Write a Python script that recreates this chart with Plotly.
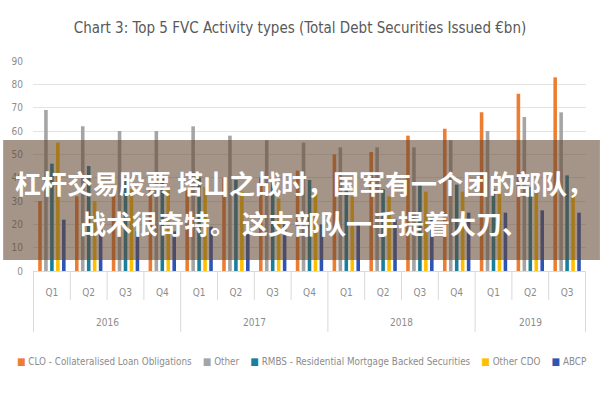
import plotly.graph_objects as go

years = ["2016"] * 4 + ["2017"] * 4 + ["2018"] * 4 + ["2019"] * 3
quarters = ["Q1", "Q2", "Q3", "Q4"] * 3 + ["Q1", "Q2", "Q3"]
year_labels = ["2016", "2017", "2018", "2019"]

clo = [30, 32, 33, 35, 35, 40, 40, 43, 50, 51, 58, 61, 68, 76, 83]
other = [69, 62, 60, 60, 62, 58, 56, 55, 53, 53, 53, 56, 60, 66, 68]
rmbs = [46, 45, 40, 40, 40, 39, 39, 39, 35, 35, 38, 37, 35, 36, 41]
other_cdo = [55, 30, 35, 35, 36, 34, 31, 33, 32, 32, 34, 34, 34, 34, 33]
abcp = [22, 19, 17, 17, 19, 16, 20, 20, 21, 22, 23, 25, 25, 26, 25]

series_names = ["CLO - Collateralised Loan Obligations", "Other",
                "RMBS - Residential Mortgage Backed Securities", "Other CDO", "ABCP"]
series_values = [clo, other, rmbs, other_cdo, abcp]
series_colors = ["#ED7D31", "#A5A5A5", "#1A7F9C", "#FFC000", "#2E55B4"]

title_text = "Chart 3: Top 5 FVC Activity types (Total Debt Securities Issued €bn)"
overlay_lines = ["杠杆交易股票 塔山之战时，国军有一个团的部队，", "战术很奇特。 这支部队一手提着大刀、"]

cats = [f"{y} {q}" for y, q in zip(years, quarters)]
narrow = "DejaVu Sans Condensed, sans-serif"
grey_text = "#8C8C8C"
line_grey = "#D9D9D9"

fig = go.Figure()
for name, vals, color in zip(series_names, series_values, series_colors):
    fig.add_trace(go.Bar(x=cats, y=vals, name=name, showlegend=False,
                         marker=dict(color=color, line=dict(width=0))))

W, H = 600, 400
ml, mr, mt, mb = 30, 14, 61, 129
pw, ph = W - ml - mr, H - mt - mb

def px_x(x):
    return (x - ml) / pw

def px_y(y):
    return (H - mb - y) / ph

fig.update_layout(
    width=W, height=H,
    margin=dict(l=ml, r=mr, t=mt, b=mb, pad=0),
    paper_bgcolor="white", plot_bgcolor="white",
    barmode="group", bargap=0.19, bargroupgap=0.4,
    font=dict(family=narrow, color=grey_text, size=10),
    title=dict(text=title_text, x=0.5, xanchor="center", y=1 - 28 / H, yanchor="middle",
               font=dict(family=narrow, size=15, color="#595959")),
    showlegend=False,
    yaxis=dict(range=[0, 90], dtick=10, showgrid=True, gridcolor="#E3E3E3", gridwidth=1,
               zeroline=False, showline=False, ticks="", ticklabelstandoff=9,
               tickfont=dict(family=narrow, size=10, color=grey_text)),
    xaxis=dict(type="category", showline=True, linecolor=line_grey, linewidth=1,
               ticks="", tickvals=cats, ticktext=quarters, ticklabelstandoff=12,
               showgrid=False, tickfont=dict(family=narrow, size=10, color=grey_text)),
)

# group separators (quarters short, years long) at category boundaries
year_starts = [years.index(y) for y in year_labels]
n = len(cats)
for b in range(n + 1):
    is_year = b in year_starts or b == n
    fig.add_shape(type="line", xref="x", yref="paper", x0=b - 0.5, x1=b - 0.5,
                  y0=0, y1=px_y(332 if is_year else 300),
                  line=dict(color=line_grey, width=1), layer="below")

# year labels centred under each year block
for y in year_labels:
    idx = [i for i, yy in enumerate(years) if yy == y]
    fig.add_annotation(text=y, xref="x", yref="paper", x=(idx[0] + idx[-1]) / 2,
                       y=px_y(322), xanchor="center", yanchor="middle", showarrow=False,
                       font=dict(family=narrow, size=10, color=grey_text))

# legend row
legend_parts = [f'<span style="color:{c}; font-size:10px">■</span> {nm}'
                for nm, c in zip(series_names, series_colors)]
fig.add_annotation(text="    ".join(legend_parts), xref="paper", yref="paper",
                   x=px_x(300), y=px_y(361), xanchor="center", yanchor="middle",
                   showarrow=False, font=dict(family=narrow, size=9.8, color=grey_text))

# overlay band and text
fig.add_shape(type="rect", xref="paper", yref="paper",
              x0=px_x(0), x1=px_x(W), y0=px_y(260), y1=px_y(140),
              fillcolor="rgba(100,70,50,0.58)", line=dict(width=0), layer="above")

for line_text, yc in zip(overlay_lines, [182, 222]):
    fig.add_annotation(text="<b>" + line_text + "</b>", xref="paper", yref="paper",
                       x=px_x(302), y=px_y(yc), xanchor="center", yanchor="middle",
                       showarrow=False,
                       font=dict(family="Noto Sans CJK SC", size=26, color="white"))

fig.write_html("out.html")
